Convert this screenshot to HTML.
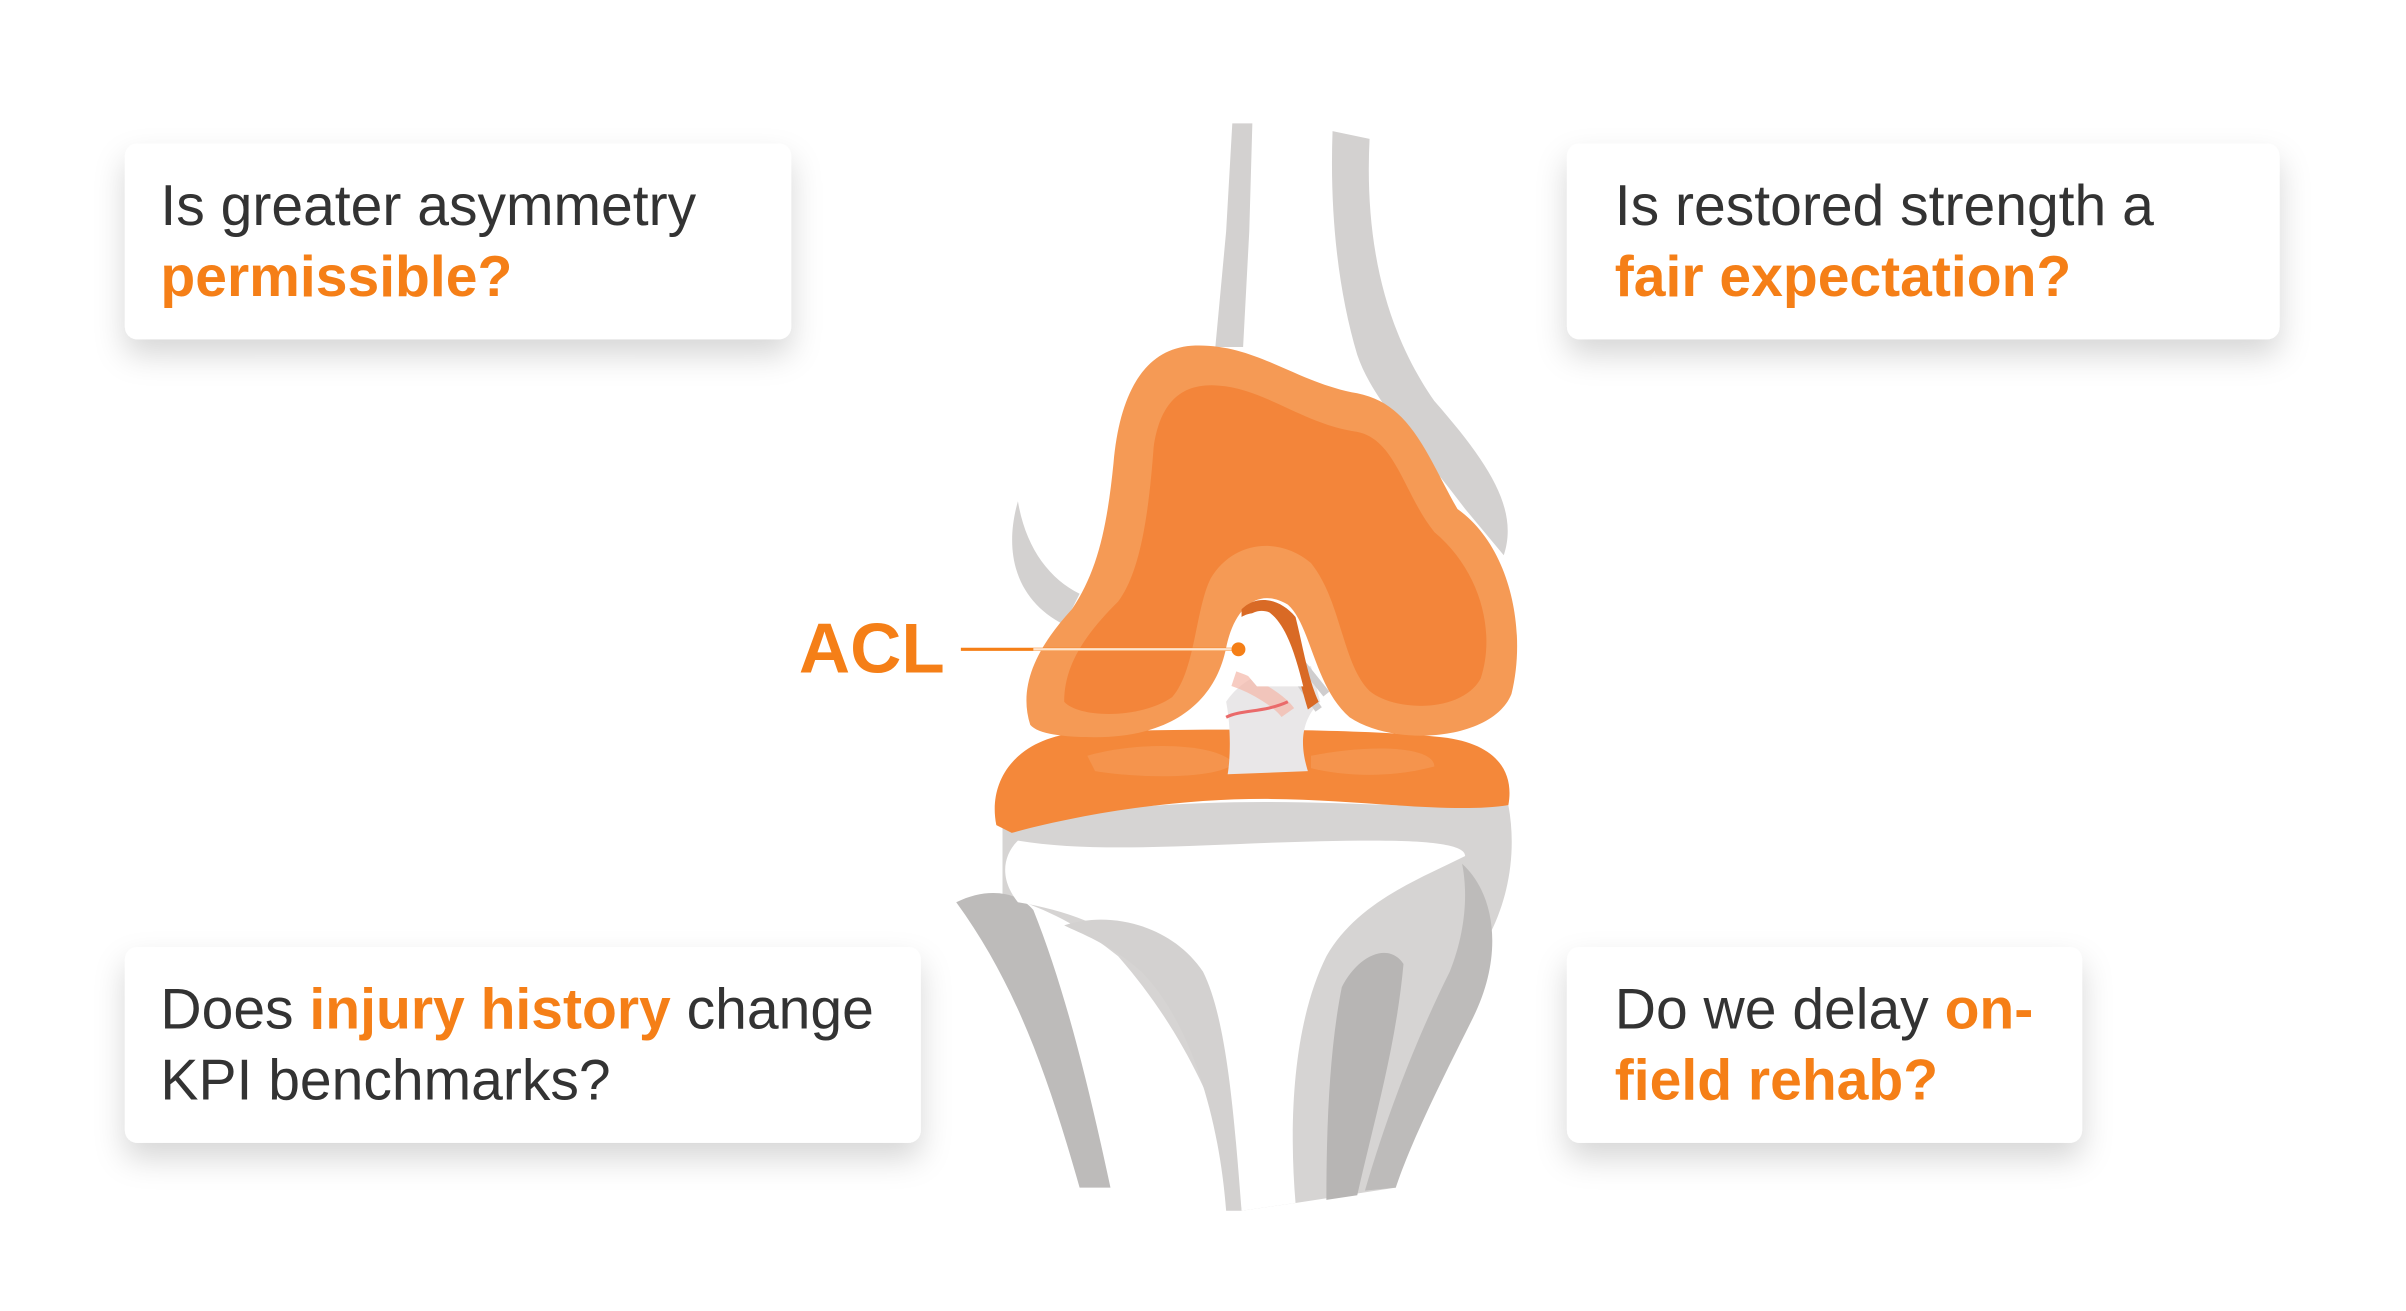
<!DOCTYPE html>
<html><head><meta charset="utf-8"><style>
html,body{margin:0;padding:0;background:#fff;}
svg{display:block}
text{font-family:"Liberation Sans",sans-serif;}
</style></head><body>
<svg width="2406" height="1311" viewBox="0 0 1560 850" xmlns="http://www.w3.org/2000/svg">
<defs>
<filter id="sh" x="-20%" y="-30%" width="140%" height="180%">
<feDropShadow dx="0" dy="10" stdDeviation="10" flood-color="#000" flood-opacity="0.16"/>
</filter>
</defs>
<rect width="1560" height="850" fill="#fff"/>

<!-- femur grey -->
<path d="M799 80 L812 80 L810 150 L806 225 L788 225 L795 150 Z" fill="#d3d1d0"/>
<path d="M864 85 L888 90 C885 150 895 210 930 260 C965 300 985 330 975 360 L950 330 C920 290 890 260 880 230 C868 190 862 140 864 85 Z" fill="#d3d1d0"/>
<path d="M660 325 C650 360 660 390 690 405 L700 385 C680 375 665 355 660 325 Z" fill="#d3d1d0"/>

<!-- lower leg grey -->
<path d="M650 535 C700 525 760 520 820 520 C880 520 940 525 978 522 C985 560 975 600 950 630 C920 670 905 720 905 770 L840 780 L805 785 L795 740 C780 700 760 660 725 620 C700 600 680 590 650 580 Z" fill="#d6d4d3"/>
<path d="M620 585 C640 575 660 578 670 590 C690 640 705 700 720 770 L700 770 C680 700 660 640 620 585 Z" fill="#bdbbba"/>
<path d="M660 545 C720 555 800 545 890 545 C930 545 950 548 950 555 C920 570 880 585 860 620 C840 660 835 720 840 780 L805 785 C795 700 770 650 740 620 C720 600 690 590 660 585 C648 570 650 555 660 545 Z" fill="#fff"/>
<path d="M690 600 C720 590 760 600 780 630 C795 660 800 720 805 785 L795 785 C790 720 770 660 740 630 C720 612 700 605 690 600 Z" fill="#d3d1d0"/>
<path d="M870 640 C880 620 900 610 910 625 C905 680 890 730 880 775 L860 778 C860 730 862 680 870 640 Z" fill="#b7b5b4"/>
<path d="M948 560 C970 580 975 620 955 660 C935 700 915 740 905 770 L885 772 C900 720 920 670 940 630 C950 605 952 580 948 560 Z" fill="#bdbbba"/>

<!-- tibia plateau orange -->
<path d="M646 535 C640 505 660 478 700 475 C760 472 880 472 935 478 C970 482 982 500 978 522 C940 528 880 518 820 518 C760 518 700 528 656 540 Z" fill="#f4883a"/>
<path d="M705 490 C740 480 790 482 800 495 C790 505 740 505 710 500 Z" fill="#f59a55" opacity="0.7"/>
<path d="M850 490 C890 482 930 484 930 497 C900 505 870 503 850 498 Z" fill="#f59a55" opacity="0.7"/>

<!-- ligament -->
<path d="M795 455 C805 440 825 430 850 432 L856 455 C840 470 845 490 848 500 L796 502 C798 490 798 470 795 455 Z" fill="#e9e7e8"/>
<path d="M800 440 C815 445 830 455 835 462" stroke="#f3b7a8" stroke-width="10" fill="none" opacity="0.7"/>
<path d="M795 465 C805 460 820 462 835 455" stroke="#ea6a6a" stroke-width="2" fill="none"/>
<path d="M840 425 L860 450 M834 430 L855 460" stroke="#cfcdce" stroke-width="5"/>

<!-- femur orange -->
<path d="M668 470 C660 445 672 420 695 395 C712 370 718 340 722 300 C726 255 742 225 775 224 C815 223 840 248 880 255 C915 262 925 295 945 330 C980 355 990 410 980 450 C968 480 905 485 875 465 C852 445 850 405 835 392 C815 380 800 395 795 420 C788 455 760 478 710 478 C690 478 673 476 668 470 Z" fill="#f59a55"/>
<path d="M690 455 C690 430 705 410 725 390 C740 370 745 330 748 290 C752 262 765 248 790 250 C820 252 845 275 880 280 C905 285 910 320 930 345 C960 370 970 410 960 440 C948 462 905 462 888 448 C870 430 870 390 850 365 C830 348 800 350 785 375 C775 395 775 435 760 452 C740 466 700 466 690 455 Z" fill="#f3853a"/>
<path d="M805 395 C815 385 830 388 840 400 C845 420 848 440 855 455 L848 460 C842 440 838 420 828 405 C820 395 810 397 805 400 Z" fill="#d96a25"/>
<path d="M798 425 C802 402 812 393 823 397 C834 405 840 425 845 445 L815 445 Z" fill="#fff"/>

<!-- ACL label -->
<text x="518" y="436" font-size="46" font-weight="bold" fill="#f57f17">ACL</text>
<line x1="623" y1="421" x2="803" y2="421" stroke="#f57f17" stroke-width="2"/>
<line x1="670" y1="421" x2="800" y2="421" stroke="#fff" stroke-width="1.5" opacity="0.8"/>
<circle cx="803" cy="421" r="4.5" fill="#f57f17"/>

<!-- boxes -->
<g filter="url(#sh)">
<rect x="81" y="93" width="432" height="127" rx="8" fill="#fff"/>
<rect x="1016" y="93" width="462" height="127" rx="8" fill="#fff"/>
<rect x="81" y="614" width="516" height="127" rx="8" fill="#fff"/>
<rect x="1016" y="614" width="334" height="127" rx="8" fill="#fff"/>
</g>
<g font-size="37" fill="#333">
<text x="104" y="146">Is greater asymmetry</text>
<text x="104" y="192" fill="#f57f17" font-weight="bold">permissible?</text>
<text x="1047" y="146">Is restored strength a</text>
<text x="1047" y="192" fill="#f57f17" font-weight="bold">fair expectation?</text>
<text x="104" y="667">Does <tspan fill="#f57f17" font-weight="bold">injury history</tspan> change</text>
<text x="104" y="713">KPI benchmarks?</text>
<text x="1047" y="667">Do we delay <tspan fill="#f57f17" font-weight="bold">on-</tspan></text>
<text x="1047" y="713" fill="#f57f17" font-weight="bold">field rehab?</text>
</g>
</svg>
</body></html>
